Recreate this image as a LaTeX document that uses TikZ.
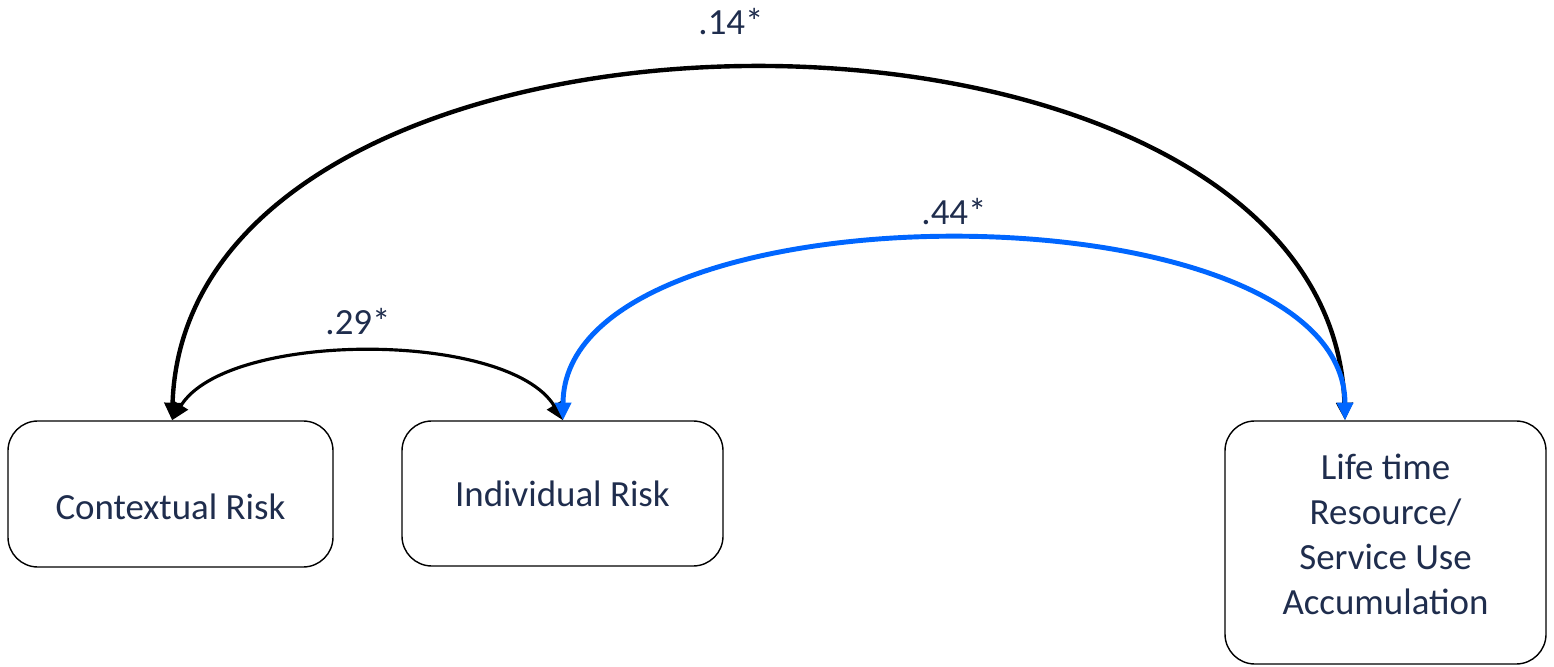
\documentclass[tikz,border=0pt]{standalone}
\usepackage{fontspec}
\setmainfont{Carlito}
\usetikzlibrary{arrows.meta}
\definecolor{txtcol}{HTML}{1F2D4D}
\definecolor{blueline}{HTML}{0066FF}
\begin{document}
\begin{tikzpicture}[x=0.02cm,y=0.02cm,
  box/.style={draw=black,line width=0.8pt,rounded corners=17pt,fill=white,inner sep=0pt},
  txt/.style={text=txtcol,font=\fontsize{21}{25.5}\selectfont,align=center,inner sep=0pt},
  lab/.style={text=txtcol,font=\fontsize{21}{25.5}\selectfont,inner sep=0pt},
  cov/.style={line width=2.5pt,{Triangle[length=10pt,width=9pt]}-{Triangle[length=10pt,width=9pt]}},
  thincov/.style={line width=1.8pt,{Triangle[length=10pt,width=9pt]}-{Triangle[length=10pt,width=9pt]}}]
\useasboundingbox (0,0) rectangle (1554,666);
% boxes
\node[box,minimum width=325*0.02cm,minimum height=146*0.02cm] (ctx) at (170.5,172) {};
\node[box,minimum width=321*0.02cm,minimum height=145*0.02cm] (ind) at (562.5,172.5) {};
\node[box,minimum width=321*0.02cm,minimum height=243*0.02cm] (life) at (1385.5,123.5) {};
\node[txt] (ctxt) at ([yshift=-13*0.02cm]ctx.center) {Contextual Risk};
\node[txt] (indt) at (ind.center) {Individual Risk};
\node[txt] (lifet) at ([yshift=8*0.02cm]life.center) {Life time\\Resource/\\Service Use\\Accumulation};
% arrow end points
\coordinate (A) at (ctx.north -| 172,0);
\coordinate (B) at (ind.north -| 563,0);
\coordinate (C) at (life.north -| 1345,0);
% connectors
\draw[cov] (A) .. controls +(15,467) and +(-15,467) .. (C);
\draw[thincov] (A) .. controls +(55,90) and +(-55,90) .. (B);
\draw[cov,line width=2.8pt,draw=blueline] (B) .. controls +(0,240) and +(0,240) .. (C);
% labels
\node[lab] (l14) at (731,644) {.14*};
\node[lab] (l44) at (954,454) {.44*};
\node[lab] (l29) at (358,344) {.29*};
\end{tikzpicture}
\end{document}
